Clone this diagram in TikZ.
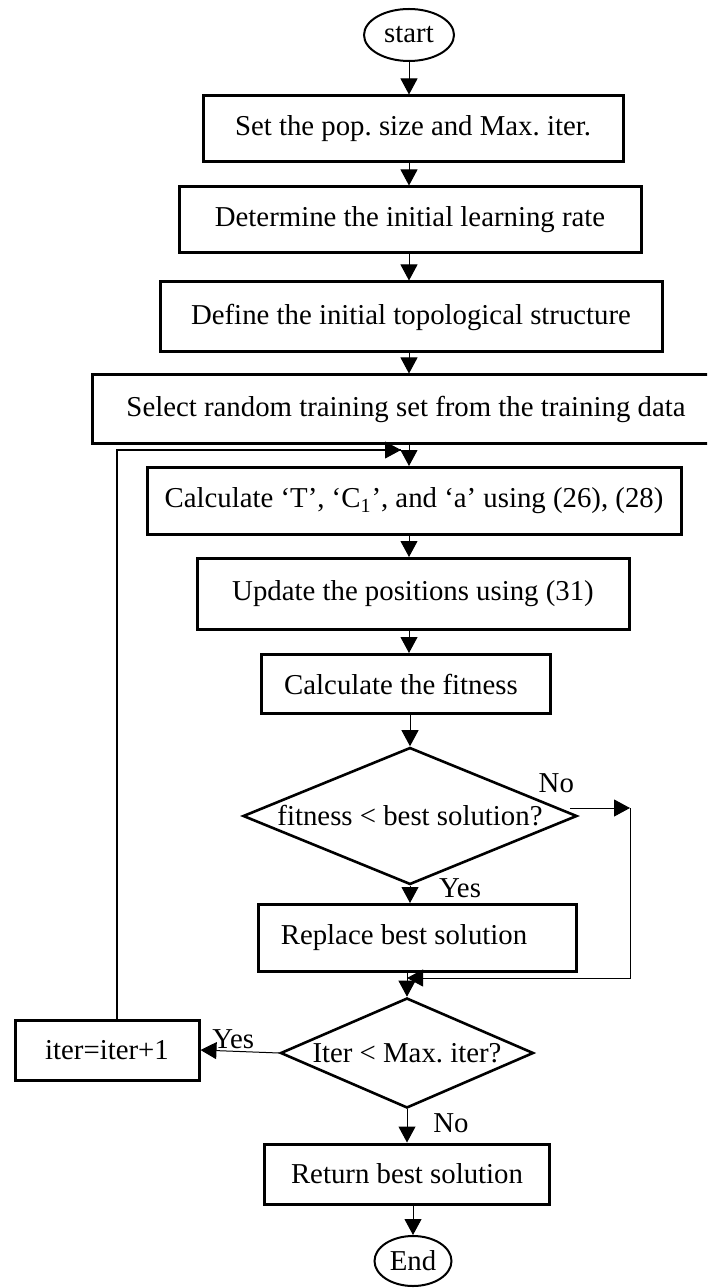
\documentclass[tikz,border=0pt]{standalone}
\usepackage{fontspec}
\setmainfont{Liberation Serif}
\usetikzlibrary{shapes.geometric,arrows.meta}
\frenchspacing

\begin{document}
\begin{tikzpicture}[x = 0.5pt, y = -0.5pt,
	font = \fontsize{14.4}{16}\selectfont,
	procbox/.style = {draw, line width = 1.5pt, rectangle, inner sep = 0pt},
	term/.style = {draw, line width = 1pt, ellipse, inner sep = 0pt},
	decide/.style = {draw, line width = 1.3pt, diamond, inner sep = 0pt},
	flow/.style = {line width = 0.5pt, -{Triangle[length = 8pt, width = 8.5pt]}},
	back/.style = {line width = 0.7pt}]
	\useasboundingbox (0,0) rectangle (707,1288);
	\clip (0,0) rectangle (707,1288);

	% main column
	\node[term, minimum width = 45pt, minimum height = 26pt] (start) at (409,35) {start};
	\node[procbox, minimum width = 210pt, minimum height = 33pt] (popsize) at (413,129) {Set the pop. size and Max. iter.};
	\node[procbox, minimum width = 231pt, minimum height = 33pt] (lrate) at (410,220) {Determine the initial learning rate};
	\node[procbox, minimum width = 251pt, minimum height = 35pt] (topo) at (411,317) {Define the initial topological structure};
	\node[procbox, minimum width = 314pt, minimum height = 34pt] (select) at (406,409) {Select random training set from the training data};
	\node[procbox, minimum width = 267pt, minimum height = 33.5pt] (calc) at (414,501) {Calculate `T', `C\textsubscript{1}', and `a' using (26), (28)};
	\node[procbox, minimum width = 216pt, minimum height = 35.5pt] (update) at (413,594) {Update the positions using (31)};
	\node[procbox, minimum width = 144.5pt, minimum height = 29.5pt] (fitness) at (406,684) {Calculate the fitness\hspace*{5pt}};
	\node[decide, aspect = 2.44, minimum width = 167pt, minimum height = 68.5pt] (better) at (410,816) {fitness < best solution?};
	\node[procbox, minimum width = 159pt, minimum height = 33.5pt] (replace) at (417,938) {Replace best solution\hspace*{13pt}};
	\node[decide, aspect = 2.3, minimum width = 126.5pt, minimum height = 55pt] (maxiter) at (407,1053) {Iter < Max. iter?};
	\node[procbox, minimum width = 92pt, minimum height = 30pt] (incr) at (107,1050) {iter=iter+1};
	\node[procbox, minimum width = 142.5pt, minimum height = 30pt] (ret) at (407,1174) {Return best solution};
	\node[term, minimum width = 38.5pt, minimum height = 25pt] (end) at (413,1261) {End};

	\coordinate (noturn) at (630,808);
	\coordinate (join) at (407,978);
	\coordinate (loopin) at (401,450);

	% arrows down
	\draw[flow] (start.south) -- (popsize.north -| start);
	\draw[flow] (popsize.south -| start) -- (lrate.north -| start);
	\draw[flow] (lrate.south -| start) -- (topo.north -| start);
	\draw[flow] (topo.south -| start) -- (select.north -| start);
	\draw[flow] (select.south -| start) -- (calc.north -| start);
	\draw[flow] (calc.south -| start) -- (update.north -| start);
	\draw[flow] (update.south -| start) -- (fitness.north -| start);
	\draw[flow] (fitness.south -| better) -- (better.north);
	\draw[flow] (better.south) -- (replace.north -| better);
	\draw[flow] (replace.south -| maxiter) -- (maxiter.north);
	\draw[flow] (maxiter.south) -- (ret.north -| maxiter);
	\draw[flow] (ret.south -| end) -- (end.north);

	% branches
	\draw[flow] (better.east) ++(-8,-8) -- (noturn);
	\draw[flow] (noturn) |- (join);
	\draw[flow] (maxiter.west) -- (incr.east);
	\draw[back] ([xshift = 5pt]incr.north) |- (loopin);
	\draw[flow] ([xshift = 5pt]incr.north |- loopin) -- (loopin);

	% labels
	\path (better.east) ++(-22,-33) node (nobetter) {No};
	\path (better.south) ++(50,2) node (yesbetter) {Yes};
	\path (maxiter.west) ++(-46,-14) node (yesiter) {Yes};
	\path (maxiter.south) ++(44,14) node (noiter) {No};
\end{tikzpicture}
\end{document}
